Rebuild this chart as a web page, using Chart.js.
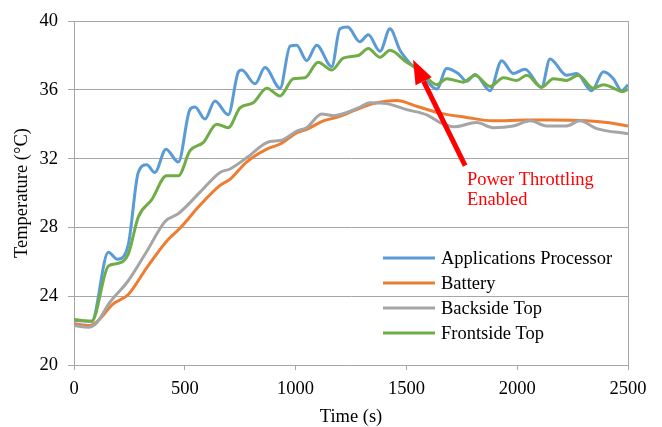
<!DOCTYPE html>
<html>
<head>
<meta charset="utf-8">
<script src="https://cdn.jsdelivr.net/npm/chart.js@4"></script>
<style>
  body { margin: 0; background: #fff; }
</style>
</head>
<body>
<canvas id="chart" width="662" height="427"></canvas>
<script>
var SERIES = ["Applications Processor", "Battery", "Backside Top", "Frontside Top"];

var apTime = [0, 80, 155, 196, 245, 290, 328, 365, 415, 471, 523, 546, 591, 636, 696, 742, 757, 817, 862, 930,
  975, 1005, 1050, 1095, 1163, 1200, 1235, 1290, 1328, 1381, 1426, 1471, 1516, 1561, 1637, 1682, 1734, 1772,
  1810, 1877, 1930, 1982, 2035, 2110, 2148, 2223, 2268, 2336, 2389, 2434, 2471, 2500];
var apTemp = [22.6, 22.55, 26.55, 26.15, 27.0, 31.2, 31.65, 31.2, 32.55, 31.8, 34.85, 35.0, 34.3, 35.35, 34.55,
  37.05, 37.15, 36.35, 37.3, 36.1, 38.55, 38.6, 37.7, 38.6, 37.35, 39.55, 39.65, 38.8, 39.2, 38.25, 39.55,
  38.3, 37.55, 37.05, 36.05, 37.25, 36.95, 36.5, 36.9, 35.95, 37.7, 36.95, 37.2, 36.15, 37.8, 36.85, 36.95,
  35.95, 37.05, 36.65, 35.95, 36.3];

var batTime = [0, 72, 102, 177, 245, 328, 418, 478, 569, 659, 704, 779, 870, 930, 1005, 1050, 1125, 1185,
  1283, 1351, 1456, 1546, 1652, 1772, 1892, 2043, 2163, 2313, 2404, 2500];
var batTemp = [22.4, 22.3, 22.5, 23.55, 24.1, 25.65, 27.2, 27.95, 29.3, 30.45, 30.8, 31.8, 32.55, 32.85, 33.5,
  33.7, 34.2, 34.4, 34.9, 35.2, 35.38, 35.05, 34.65, 34.4, 34.2, 34.25, 34.25, 34.2, 34.1, 33.9];

var backTime = [0, 65, 102, 162, 245, 328, 411, 471, 569, 659, 704, 779, 884, 930, 1005, 1050, 1118, 1170,
  1283, 1336, 1411, 1501, 1592, 1652, 1712, 1817, 1892, 1982, 2058, 2133, 2223, 2283, 2359, 2500];
var backTemp = [22.3, 22.2, 22.45, 23.65, 24.9, 26.6, 28.35, 28.8, 30.05, 31.2, 31.4, 32.05, 33.0, 33.05, 33.6,
  33.8, 34.6, 34.5, 34.95, 35.25, 35.2, 34.85, 34.55, 34.1, 33.85, 34.1, 33.8, 33.9, 34.2, 33.9, 33.9, 34.2,
  33.75, 33.45];

var frontTime = [0, 80, 155, 196, 245, 290, 350, 418, 471, 523, 584, 644, 696, 749, 809, 870, 930, 990, 1042,
  1102, 1163, 1215, 1283, 1328, 1381, 1426, 1501, 1561, 1637, 1682, 1757, 1810, 1877, 1938, 1998, 2043, 2110,
  2163, 2223, 2276, 2343, 2389, 2479, 2500];
var frontTemp = [22.65, 22.55, 25.75, 25.9, 26.45, 28.6, 29.6, 31.0, 31.0, 32.45, 32.95, 34.0, 33.8, 34.95,
  35.25, 36.1, 35.65, 36.65, 36.7, 37.6, 37.15, 37.85, 38.0, 38.4, 37.9, 38.3, 37.6, 37.15, 36.3, 36.65, 36.45,
  36.85, 36.2, 36.7, 36.55, 36.85, 36.15, 36.65, 36.55, 36.85, 36.1, 36.3, 35.9, 36.05];

var COLORS = ["#5b9bd5", "#ed7d31", "#a5a5a5", "#70ad47"];
var FONT = "'Liberation Serif', 'Times New Roman', serif";
var FSIZE = 18.5;

function pairs(ts, vs) {
    return ts.map(function (t, i) { return { x: t, y: vs[i] }; });
}

// legend drawn inside the plot, like the original
var innerLegend = {
    id: "innerLegend",
    afterDatasetsDraw: function (chart) {
        var ctx = chart.ctx;
        ctx.save();
        ctx.font = FSIZE + "px " + FONT;
        ctx.textBaseline = "middle";
        SERIES.forEach(function (name, i) {
            var y = 258 + i * 25;
            ctx.strokeStyle = COLORS[i];
            ctx.lineWidth = 3;
            ctx.beginPath();
            ctx.moveTo(383, y);
            ctx.lineTo(435, y);
            ctx.stroke();
            ctx.fillStyle = "#000";
            ctx.fillText(name, 441, y + 1);
        });
        ctx.restore();
    }
};

// right frame line and the throttling arrow
var extras = {
    id: "extras",
    afterDatasetsDraw: function (chart) {
        var ctx = chart.ctx, a = chart.chartArea;
        var xs = chart.scales.x, ys = chart.scales.y;
        ctx.save();
        ctx.strokeStyle = "#a6a6a6";
        ctx.lineWidth = 1;
        ctx.beginPath();
        ctx.moveTo(Math.round(a.right) + 0.5, a.top);
        ctx.lineTo(Math.round(a.right) + 0.5, a.bottom);
        ctx.stroke();

        var x1 = xs.getPixelForValue(1765), y1 = ys.getPixelForValue(31.6);
        var x2 = xs.getPixelForValue(1530), y2 = ys.getPixelForValue(37.75);
        var ang = Math.atan2(y2 - y1, x2 - x1);
        var headLen = 24, headW = 9;
        var bx = x2 - headLen * Math.cos(ang), by = y2 - headLen * Math.sin(ang);
        ctx.strokeStyle = "#ff0000";
        ctx.fillStyle = "#ff0000";
        ctx.lineWidth = 5;
        ctx.beginPath();
        ctx.moveTo(x1, y1);
        ctx.lineTo(bx, by);
        ctx.stroke();
        ctx.beginPath();
        ctx.moveTo(x2, y2);
        ctx.lineTo(bx + headW * Math.sin(ang), by - headW * Math.cos(ang));
        ctx.lineTo(bx - headW * Math.sin(ang), by + headW * Math.cos(ang));
        ctx.closePath();
        ctx.fill();

        ctx.font = FSIZE + "px " + FONT;
        ctx.textBaseline = "middle";
        ctx.fillText("Power Throttling", xs.getPixelForValue(1773), ys.getPixelForValue(30.75));
        ctx.fillText("Enabled", xs.getPixelForValue(1773), ys.getPixelForValue(29.6));
        ctx.restore();
    }
};

var ctx = document.getElementById("chart").getContext("2d");
var myChart = new Chart(ctx, {
    type: "line",
    data: {
        datasets: [
            { label: SERIES[0], data: pairs(apTime, apTemp), borderColor: COLORS[0], order: 3 },
            { label: SERIES[1], data: pairs(batTime, batTemp), borderColor: COLORS[1], order: 2 },
            { label: SERIES[2], data: pairs(backTime, backTemp), borderColor: COLORS[2], order: 1 },
            { label: SERIES[3], data: pairs(frontTime, frontTemp), borderColor: COLORS[3], order: 0 }
        ]
    },
    options: {
        responsive: false,
        animation: false,
        layout: { padding: { top: 17, right: 34, left: 0, bottom: 0 } },
        elements: {
            point: { radius: 0 },
            line: { borderWidth: 3, cubicInterpolationMode: "monotone", fill: false }
        },
        plugins: {
            legend: { display: false },
            tooltip: { enabled: false }
        },
        scales: {
            x: {
                type: "linear",
                min: 0,
                max: 2500,
                afterFit: function (s) { s.height = 62; },
                border: { color: "#a6a6a6" },
                grid: { drawOnChartArea: false, drawTicks: true, tickLength: 5, color: "#a6a6a6" },
                ticks: {
                    stepSize: 500,
                    maxRotation: 0,
                    padding: 8,
                    color: "#000",
                    font: { family: FONT, size: FSIZE },
                    callback: function (v) { return String(v); }
                },
                title: {
                    display: true,
                    text: "Time (s)",
                    color: "#000",
                    padding: { top: 0, bottom: 1 },
                    font: { family: FONT, size: FSIZE, lineHeight: 1 }
                }
            },
            y: {
                min: 20,
                max: 40,
                afterFit: function (s) { s.width = 74; },
                border: { color: "#a6a6a6" },
                grid: { color: "#a6a6a6", tickLength: 6 },
                ticks: {
                    stepSize: 4,
                    padding: 10,
                    color: "#000",
                    font: { family: FONT, size: FSIZE },
                    callback: function (v) { return String(v); }
                },
                title: {
                    display: true,
                    text: "Temperature (°C)",
                    color: "#000",
                    padding: { top: 13, bottom: 0 },
                    font: { family: FONT, size: FSIZE, lineHeight: 1 }
                }
            }
        }
    },
    plugins: [innerLegend, extras]
});
</script>
</body>
</html>
